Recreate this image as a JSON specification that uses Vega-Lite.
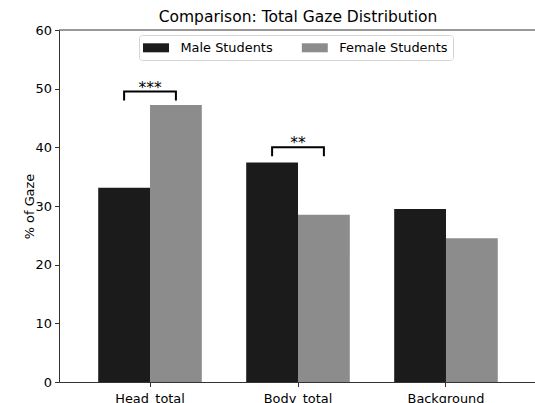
{
  "$schema": "https://vega.github.io/schema/vega-lite/v6.json",
  "autosize": {"type": "none"},
  "padding": {"left": 59, "top": 30, "right": 0, "bottom": 21},
  "width": 476,
  "height": 352,
  "background": "white",
  "config": {
    "view": {"stroke": null},
    "font": "DejaVu Sans",
    "axis": {"labelFont": "DejaVu Sans", "titleFont": "DejaVu Sans", "labelColor": "#000", "titleColor": "#000", "domainColor": "#333", "tickColor": "#333", "grid": false}
  },
  "title": {"text": "Comparison: Total Gaze Distribution", "fontSize": 15.5, "fontWeight": "normal", "font": "DejaVu Sans", "color": "#000", "baseline": "alphabetic", "offset": -13, "anchor": "middle", "frame": "group", "dx": 1},
  "datasets": {
    "bars": [
      {"cat": "Head_total", "group": "Male Students", "value": 33.1},
      {"cat": "Head_total", "group": "Female Students", "value": 47.2},
      {"cat": "Body_total", "group": "Male Students", "value": 37.4},
      {"cat": "Body_total", "group": "Female Students", "value": 28.5},
      {"cat": "Background", "group": "Male Students", "value": 29.5},
      {"cat": "Background", "group": "Female Students", "value": 24.5}
    ],
    "brackets": [
      {"br": "h", "i": 0, "cat": "Head_total", "group": "Male Students", "y": 48.0},
      {"br": "h", "i": 1, "cat": "Head_total", "group": "Male Students", "y": 49.5},
      {"br": "h", "i": 2, "cat": "Head_total", "group": "Female Students", "y": 49.5},
      {"br": "h", "i": 3, "cat": "Head_total", "group": "Female Students", "y": 48.0},
      {"br": "b", "i": 0, "cat": "Body_total", "group": "Male Students", "y": 38.5},
      {"br": "b", "i": 1, "cat": "Body_total", "group": "Male Students", "y": 40.0},
      {"br": "b", "i": 2, "cat": "Body_total", "group": "Female Students", "y": 40.0},
      {"br": "b", "i": 3, "cat": "Body_total", "group": "Female Students", "y": 38.5}
    ],
    "stars": [
      {"cat": "Head_total", "y": 49.5, "label": "***"},
      {"cat": "Body_total", "y": 40.0, "label": "**"}
    ],
    "spine": [{"y": 60}]
  },
  "layer": [
    {
      "data": {"name": "bars"},
      "mark": {"type": "bar", "strokeWidth": 0},
      "encoding": {
        "x": {"field": "cat", "type": "nominal", "sort": ["Head_total", "Body_total", "Background"],
              "scale": {"range": [0, 478], "paddingInner": 0.3, "paddingOuter": 0.265},
              "axis": {"title": null, "labelAngle": 0, "labelFontSize": 12.9, "tickSize": 4.5, "labelPadding": 6, "domainWidth": 1, "labelBaseline": "top"}},
        "xOffset": {"field": "group", "type": "nominal", "scale": {"domain": ["Male Students", "Female Students"], "padding": 0}},
        "y": {"field": "value", "type": "quantitative",
              "scale": {"domain": [0, 60], "nice": false, "zero": true},
              "axis": {"title": "% of Gaze", "values": [0, 10, 20, 30, 40, 50, 60], "labelFontSize": 12.9, "tickSize": 4.5, "labelPadding": 3, "titleFontSize": 12.9, "titleFontWeight": "normal", "titleX": -26, "titleY": 176, "titleAlign": "center", "titleBaseline": "alphabetic", "titleAngle": 270, "domainWidth": 1}},
        "color": {"field": "group", "type": "nominal",
                  "scale": {"domain": ["Male Students", "Female Students"], "range": ["#1b1b1b", "#8c8c8c"]},
                  "legend": {"title": null, "orient": "none", "legendX": 80, "legendY": 5, "direction": "horizontal",
                             "symbolType": "M-1.73,-0.6H1.73V0.6H-1.73Z", "symbolSize": 225, "symbolStrokeWidth": 0,
                             "symbolOffset": 4.5, "labelOffset": 17, "columnPadding": 28.8, "padding": 5,
                             "labelFontSize": 12.9, "labelFont": "DejaVu Sans", "labelColor": "#000",
                             "fillColor": "white", "strokeColor": "#d4d4d4", "cornerRadius": 3}}
      }
    },
    {
      "data": {"name": "brackets"},
      "mark": {"type": "line", "color": "#000", "strokeWidth": 2, "strokeJoin": "miter", "strokeCap": "butt"},
      "encoding": {
        "x": {"field": "cat", "type": "nominal", "sort": ["Head_total", "Body_total", "Background"]},
        "xOffset": {"field": "group", "type": "nominal"},
        "y": {"field": "y", "type": "quantitative"},
        "detail": {"field": "br"},
        "order": {"field": "i", "type": "quantitative"}
      }
    },
    {
      "data": {"name": "stars"},
      "mark": {"type": "text", "fontSize": 15.5, "font": "DejaVu Sans", "color": "#000", "baseline": "alphabetic", "align": "center", "dy": 1},
      "encoding": {
        "x": {"field": "cat", "type": "nominal", "sort": ["Head_total", "Body_total", "Background"]},
        "y": {"field": "y", "type": "quantitative"},
        "text": {"field": "label"}
      }
    },
    {
      "data": {"name": "spine"},
      "mark": {"type": "rule", "color": "#333", "strokeWidth": 1},
      "encoding": {"y": {"field": "y", "type": "quantitative"}}
    }
  ]
}
